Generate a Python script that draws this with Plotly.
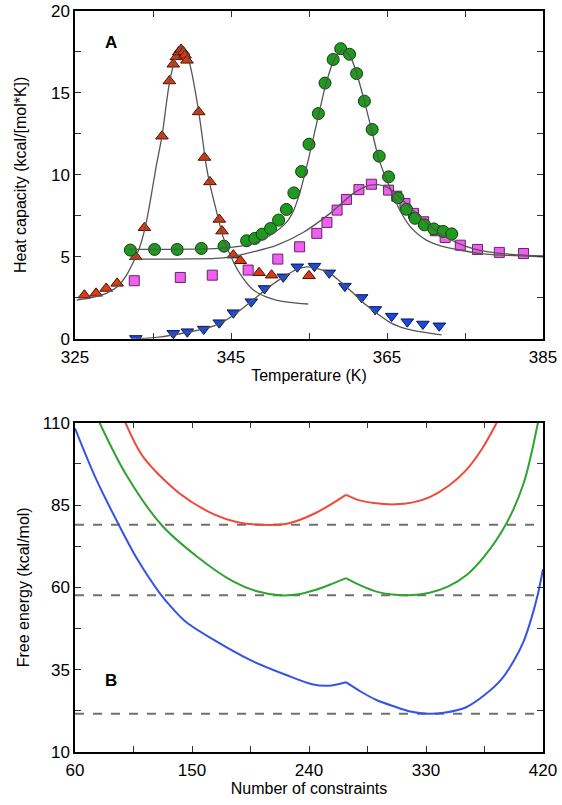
import plotly.graph_objects as go

# ---------------- Panel A data (Temperature K, heat capacity) ----------------
red_T = [326.2, 327.7, 329.0, 330.4, 332.8, 333.9, 336.15, 337.1, 337.6, 338.0, 338.3,
         338.6, 338.9, 339.1, 339.36, 340.86, 341.6, 342.3, 343.5, 343.85, 345.3, 346.2,
         348.6, 350.2, 355.0]
red_C = [2.66, 2.77, 3.07, 3.38, 5.0, 6.77, 12.36, 15.73, 16.75, 17.2, 17.5,
         17.65, 17.5, 17.3, 16.99, 13.84, 11.06, 9.57, 7.28, 6.57, 5.1, 4.76,
         4.03, 3.88, 3.84]

green_T = [332.1, 335.2, 338.1, 341.2, 344.1, 347.0, 348.05, 349.0, 350.07, 351.1, 352.1,
           353.06, 354.05, 355.0, 356.2, 357.05, 358.1, 359.06, 360.2, 361.1, 362.1, 363.1,
           364.0, 365.2, 366.4, 367.5, 368.6, 369.8, 371.0, 372.2, 373.3]
green_C = [5.41, 5.45, 5.45, 5.51, 5.65, 5.98, 6.12, 6.38, 6.73, 7.24, 7.89,
           8.9, 10.2, 11.87, 13.74, 15.6, 17.04, 17.7, 17.36, 16.18, 14.5, 12.77,
           11.14, 9.88, 8.6, 7.9, 7.35, 6.95, 6.7, 6.55, 6.4]

pink_T = [332.6, 338.5, 342.6, 347.2, 351.0, 353.8, 356.0, 357.3, 358.6, 359.8, 361.4,
          363.0, 365.2, 366.25, 367.3, 368.4, 369.7, 371.2, 372.45, 374.4, 376.6, 379.4, 382.5]
pink_C = [3.54, 3.74, 3.88, 4.19, 4.86, 5.61, 6.43, 7.1, 7.85, 8.5, 9.1,
          9.43, 9.07, 8.7, 8.25, 7.65, 7.14, 6.59, 6.18, 5.71, 5.45, 5.27, 5.2]

blue_T = [332.8, 337.6, 339.4, 341.5, 343.5, 345.3, 347.6, 349.3, 351.7, 353.5, 355.7,
          357.6, 359.6, 361.75, 363.5, 365.6, 367.6, 369.6, 371.7]
blue_C = [0.02, 0.33, 0.43, 0.59, 0.98, 1.59, 2.26, 3.07, 3.78, 4.39, 4.43,
          4.02, 3.21, 2.52, 1.79, 1.38, 1.04, 0.9, 0.79]

# fitted curves
red_fit_T = [325.2, 327.0, 329.0, 330.5, 331.6, 332.5, 333.3, 334.0, 334.6, 335.4, 336.15,
             337.1, 337.8, 338.6, 339.3, 339.8, 340.86, 341.85, 342.3, 343.1, 344.0, 345.0,
             346.1, 347.8, 349.5, 350.8, 352.5, 354.9]
red_fit_C = [2.36, 2.5, 2.77, 3.2, 3.88, 4.7, 5.6, 6.8, 8.26, 10.5, 12.36,
             15.6, 17.0, 17.8, 17.4, 16.6, 13.84, 10.5, 9.4, 7.85, 6.2, 5.0,
             4.0, 3.0, 2.55, 2.36, 2.22, 2.12]

green_fit_T = [332.0, 336.0, 340.0, 343.0, 345.5, 347.8, 350.0, 352.1, 353.0, 353.8, 354.9,
               356.2, 357.2, 358.2, 359.2, 360.2, 361.1, 362.1, 363.1, 364.0, 365.6, 366.8,
               368.0, 370.1, 372.0, 374.4, 377.0, 380.0, 385.0]
green_fit_C = [5.45, 5.45, 5.47, 5.5, 5.6, 5.8, 6.3, 7.1, 7.8, 8.87, 10.9,
               13.6, 15.6, 17.0, 17.6, 17.3, 16.2, 14.5, 12.6, 10.9, 8.96, 7.7,
               6.83, 6.0, 5.65, 5.4, 5.2, 5.1, 5.0]

pink_fit_T = [332.0, 336.0, 340.0, 343.0, 345.0, 347.8, 350.8, 354.3, 357.7, 360.7, 362.8,
              363.8, 365.0, 366.0, 368.0, 370.0, 372.0, 374.0, 376.0, 378.0, 381.0, 385.0]
pink_fit_C = [4.86, 4.86, 4.87, 4.9, 5.0, 5.3, 5.7, 6.5, 7.65, 8.87, 9.37,
              9.4, 9.25, 8.9, 8.0, 7.1, 6.35, 5.85, 5.5, 5.3, 5.15, 5.05]

blue_fit_T = [332.8, 336.0, 339.0, 341.5, 343.6, 345.5, 347.8, 350.0, 352.1, 353.5, 354.7,
              356.0, 357.7, 359.2, 360.7, 362.2, 363.7, 365.6, 367.5, 369.2, 372.0]
blue_fit_C = [0.0, 0.12, 0.35, 0.6, 0.94, 1.5, 2.36, 3.2, 3.88, 4.25, 4.39,
              4.3, 3.99, 3.4, 2.77, 2.1, 1.55, 0.94, 0.6, 0.43, 0.23]

# ---------------- Panel B data (number of constraints, free energy) ----------------
cusp_N = 268.4
red_N = [98.8, 112.3, 140.2, 167.8, 185.0, 203.7, 223.0, 244.7, 268.4,
         278.2, 290.0, 305.8, 320.0, 333.3, 348.0, 360.9, 373.0, 384.4]
red_E = [110.0, 99.7, 88.6, 82.0, 79.8, 79.0, 79.3, 82.5, 88.1,
         86.5, 85.6, 85.2, 85.8, 87.5, 91.0, 95.6, 102.0, 110.0]

green_N = [78.9, 98.8, 126.4, 154.0, 181.6, 200.0, 217.5, 232.0, 244.7, 256.0, 268.4,
           280.0, 291.9, 304.0, 316.8, 332.0, 346.8, 362.0, 374.7, 391.3, 405.1, 416.1]
green_E = [110.0, 94.6, 79.0, 69.3, 61.8, 58.8, 57.6, 57.9, 59.2, 60.8, 62.8,
           60.5, 58.7, 57.8, 57.6, 58.3, 60.2, 64.0, 69.3, 79.0, 91.6, 110.0]

blue_N = [60.0, 76.0, 93.3, 108.0, 124.7, 135.0, 145.7, 167.8, 195.4, 223.0, 242.3, 255.0, 268.4,
          280.0, 291.9, 305.8, 318.0, 331.6, 345.0, 360.9, 375.0, 388.5, 398.0, 405.1, 411.0, 416.1, 420.0]
blue_E = [108.3, 93.1, 79.3, 68.5, 58.5, 53.6, 49.4, 43.8, 37.8, 33.3, 30.6, 30.1, 31.2,
          28.3, 25.8, 23.8, 22.3, 21.6, 22.0, 23.6, 27.3, 32.3, 38.0, 43.6, 50.5, 58.0, 65.5]

dashed_levels = [79.0, 57.6, 21.6]

FONT = "Liberation Sans, Arial, Helvetica, sans-serif"

fig = go.Figure()

def mk(x, y, sym, fill, edge, size):
    fig.add_trace(go.Scatter(x=x, y=y, mode="markers", xaxis="x", yaxis="y",
                             marker=dict(symbol=sym, color=fill, size=size,
                                         line=dict(color=edge, width=1)),
                             showlegend=False))

mk(red_T, red_C, "triangle-up", "#dd3a12", "#4a1000", 11)
mk(pink_T, pink_C, "square", "#f060f0", "#6a206a", 10)
mk(green_T, green_C, "circle", "#1f9a1f", "#0d400d", 12)
mk(blue_T, blue_C, "triangle-down", "#1a48e0", "#0a1a50", 11)

for fx, fy in [(red_fit_T, red_fit_C), (green_fit_T, green_fit_C),
               (pink_fit_T, pink_fit_C), (blue_fit_T, blue_fit_C)]:
    fig.add_trace(go.Scatter(x=fx, y=fy, mode="lines", xaxis="x", yaxis="y",
                             line=dict(color="#555555", width=1.3, shape="spline", smoothing=0.8),
                             showlegend=False))

# panel B
for lv in dashed_levels:
    fig.add_trace(go.Scatter(x=[60, 420], y=[lv, lv], mode="lines", xaxis="x2", yaxis="y2",
                             line=dict(color="#707070", width=2, dash="dash"),
                             showlegend=False))

def branch(n, e, color):
    k = n.index(cusp_N)
    for xs, ys in [(n[:k + 1], e[:k + 1]), (n[k:], e[k:])]:
        fig.add_trace(go.Scatter(x=xs, y=ys, mode="lines", xaxis="x2", yaxis="y2",
                                 line=dict(color=color, width=2, shape="spline", smoothing=0.9),
                                 showlegend=False))

branch(red_N, red_E, "#f04a36")
branch(green_N, green_E, "#2fa32f")
branch(blue_N, blue_E, "#3553e6")

axis_common = dict(showline=True, linecolor="black", linewidth=1.5, mirror="ticks",
                   ticks="inside", ticklen=6, tickwidth=1.2, tickcolor="#333333",
                   showgrid=False, zeroline=False, automargin=False,
                   tickfont=dict(family=FONT, size=17, color="black"))

fig.update_layout(
    width=562, height=805,
    margin=dict(l=75, r=19, t=10.7, b=52.7, autoexpand=False),
    paper_bgcolor="white", plot_bgcolor="white",
    font=dict(family=FONT, color="black"),
    xaxis=dict(domain=[0, 1], anchor="y", range=[325, 385], tickvals=[325, 345, 365, 385],
               minor=dict(ticks="inside", ticklen=6, tickvals=[335, 355, 375], tickcolor="#333333"),
               title=dict(text="Temperature (K)", font=dict(size=16), standoff=4),
               ticklabelstandoff=2,
               **axis_common),
    yaxis=dict(domain=[0.5577, 1], anchor="x", range=[0, 20], tickvals=[0, 5, 10, 15, 20],
               minor=dict(ticks="inside", ticklen=6, tickvals=[2.5, 7.5, 12.5, 17.5], tickcolor="#333333"),
               title=dict(text="Heat capacity (kcal/[mol*K])", font=dict(size=16), standoff=20),
               **axis_common),
    xaxis2=dict(domain=[0, 1], anchor="y2", range=[60, 420], tickvals=[60, 150, 240, 330, 420],
                minor=dict(ticks="inside", ticklen=6, tickvals=[105, 195, 285, 375], tickcolor="#333333"),
                title=dict(text="Number of constraints", font=dict(size=16), standoff=4),
                ticklabelstandoff=2,
                **axis_common),
    yaxis2=dict(domain=[0, 0.4444], anchor="x2", range=[10, 110], tickvals=[10, 35, 60, 85, 110],
                minor=dict(ticks="inside", ticklen=6, tickvals=[22.5, 47.5, 72.5, 97.5], tickcolor="#333333"),
                title=dict(text="Free energy (kcal/mol)", font=dict(size=16), standoff=9),
                **axis_common),
    annotations=[
        dict(x=329.65, y=18.1, xref="x", yref="y", text="<b>A</b>", showarrow=False,
             font=dict(family=FONT, size=17, color="black")),
        dict(x=87.7, y=31.7, xref="x2", yref="y2", text="<b>B</b>", showarrow=False,
             font=dict(family=FONT, size=17, color="black")),
    ],
)

fig.write_html("out.html", config={"displayModeBar": False},
               post_script="document.body.style.margin='0';document.body.style.padding='0';")
